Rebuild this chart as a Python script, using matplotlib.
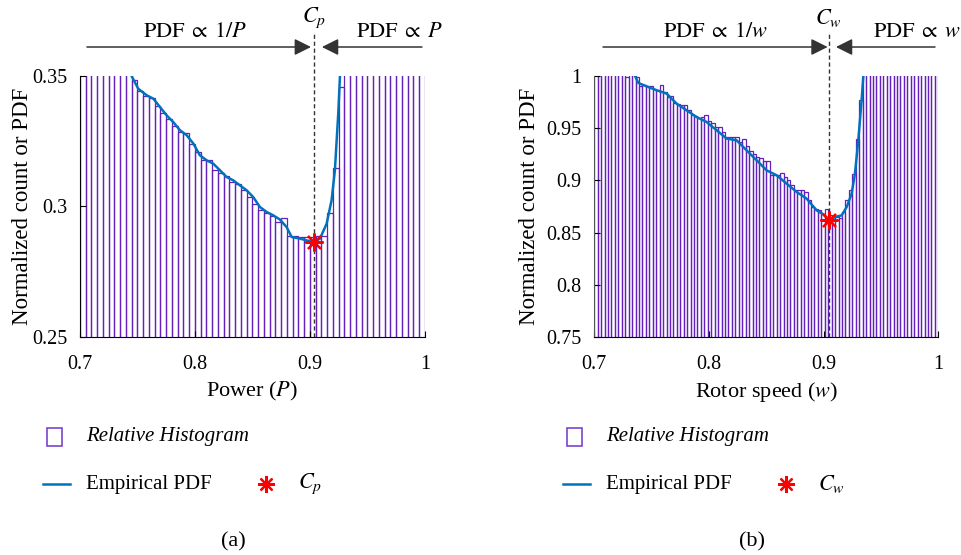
import numpy as np
import matplotlib.pyplot as plt
from matplotlib.patches import Rectangle
from matplotlib.lines import Line2D
from matplotlib.ticker import FormatStrFormatter

plt.rcParams['font.family'] = ['Liberation Serif', 'DejaVu Serif']
plt.rcParams['mathtext.fontset'] = 'stix'

# ---- (a) power: relative histogram (60 bins on 0.7..1), bars above 0.35 are off-scale
p_range = (0.7, 1.0)
p_hist = [0.43, 0.42, 0.41, 0.40, 0.39, 0.38, 0.372, 0.364, 0.356,
          0.3486, 0.3443, 0.3425, 0.3417, 0.3385, 0.3360, 0.3337, 0.3310, 0.3285, 0.3282,
          0.3241, 0.3210, 0.3179, 0.3179, 0.3141, 0.3128, 0.3116, 0.3094, 0.3087, 0.3065,
          0.3038, 0.3008, 0.2985, 0.2975, 0.2965, 0.2940, 0.2957, 0.2886, 0.2886, 0.2883,
          0.2883, 0.2885, 0.2886, 0.2886, 0.2975, 0.3147, 0.3458,
          0.362, 0.38, 0.40, 0.42, 0.44, 0.46, 0.48, 0.50, 0.52, 0.54, 0.56, 0.58, 0.60, 0.62]
p_pdf_x = [0.7435, 0.7449, 0.7507, 0.7580, 0.7638, 0.7696, 0.7754, 0.7812, 0.7870, 0.7928,
           0.7986, 0.8043, 0.8101, 0.8159, 0.8217, 0.8275, 0.8333, 0.8391, 0.8449, 0.8507,
           0.8565, 0.8623, 0.8681, 0.8739, 0.8797, 0.8841, 0.8913, 0.8971, 0.9038, 0.9087,
           0.9145, 0.9188, 0.9217, 0.9246, 0.9261, 0.9268]
p_pdf_y = [0.3518, 0.3500, 0.3451, 0.3426, 0.3413, 0.3381, 0.3349, 0.3323, 0.3292, 0.3273,
           0.3241, 0.3196, 0.3177, 0.3164, 0.3139, 0.3113, 0.3100, 0.3081, 0.3062, 0.3036,
           0.2998, 0.2979, 0.2966, 0.2950, 0.2921, 0.2883, 0.2877, 0.2870, 0.2864, 0.2877,
           0.2934, 0.3024, 0.3139, 0.3356, 0.3500, 0.3600]
p_cp = (0.9038, 0.2864)

# ---- (b) rotor speed: relative histogram (100 bins on 0.7..1), bars above 1 are off-scale
w_range = (0.7, 1.0)
w_hist = [1.06, 1.055, 1.05, 1.045, 1.04, 1.035, 1.03, 1.02, 1.01, 0.9993,
          1.005, 1.002, 0.9995, 0.990, 0.991, 0.990, 0.990, 0.988, 0.987, 0.991,
          0.985, 0.980, 0.981, 0.974, 0.973, 0.972, 0.972, 0.967, 0.963, 0.962,
          0.960, 0.961, 0.9624, 0.957, 0.9547, 0.9515, 0.951, 0.946, 0.9413, 0.9413,
          0.9413, 0.9413, 0.937, 0.940, 0.9333, 0.928, 0.925, 0.9228, 0.921, 0.9185,
          0.9185, 0.9049, 0.9049, 0.9049, 0.9071, 0.9033, 0.9001, 0.896, 0.8912, 0.8912,
          0.8905, 0.8889, 0.8816, 0.8745, 0.873, 0.8714, 0.8682, 0.873, 0.8666, 0.865,
          0.865, 0.8637, 0.870, 0.881, 0.8905, 0.9065, 0.940, 0.9767, 1.03, 1.06,
          1.09, 1.12, 1.15, 1.18, 1.21, 1.24, 1.27, 1.30, 1.33, 1.36,
          1.39, 1.42, 1.45, 1.48, 1.51, 1.54, 1.57, 1.60, 1.63, 1.66]
w_pdf_x = [0.7340, 0.7355, 0.7384, 0.7456, 0.7544, 0.7631, 0.7718, 0.7805, 0.7892, 0.7980,
           0.8067, 0.8154, 0.8241, 0.8328, 0.8416, 0.8503, 0.8590, 0.8677, 0.8765, 0.8852,
           0.8939, 0.8997, 0.9049, 0.9099, 0.9157, 0.9201, 0.9244, 0.9273, 0.9302, 0.9331,
           0.9346, 0.9352]
w_pdf_y = [1.003, 1.000, 0.9933, 0.9901, 0.9863, 0.9831, 0.9735, 0.9671, 0.9607, 0.9559,
           0.9480, 0.9400, 0.9384, 0.9288, 0.9192, 0.9096, 0.9049, 0.8969, 0.8889, 0.8825,
           0.8713, 0.8675, 0.8620, 0.8649, 0.8665, 0.8745, 0.8873, 0.9064, 0.9384, 0.9767,
           1.000, 1.020]
w_cw = (0.9045, 0.862)

hist_color = '#6320bb'
pdf_color = '#0072BD'

fig = plt.figure(figsize=(9.61, 5.55), dpi=100)
ax1 = fig.add_axes([0.0832, 0.3928, 0.359, 0.4703])
ax2 = fig.add_axes([0.6184, 0.3928, 0.358, 0.4703])


def draw_panel(ax, hist, rng, px, py, cpt, ylim, yticks, xlabel, var, sym, arrows, ylab_x):
    edges = np.linspace(rng[0], rng[1], len(hist) + 1)
    ax.bar(edges[:-1], hist, width=np.diff(edges), align='edge', fill=False,
           edgecolor=hist_color, linewidth=0.9)
    ax.plot(px, py, color=pdf_color, lw=1.8)
    ax.plot([cpt[0]], [cpt[1]], linestyle='none', marker=(8, 2, 0), ms=13,
            mew=1.6, color='red', zorder=5)
    ax.set_xlim(rng)
    ax.set_ylim(ylim)
    ax.set_xticks([0.7, 0.8, 0.9, 1.0])
    ax.set_yticks(yticks)
    ax.xaxis.set_major_formatter(FormatStrFormatter('%g'))
    ax.yaxis.set_major_formatter(FormatStrFormatter('%g'))
    for s in ['top', 'right']:
        ax.spines[s].set_visible(False)
    ax.tick_params(direction='in', length=4, width=0.8, labelsize=14.5)
    ax.tick_params(axis='y', pad=9)
    ax.tick_params(axis='x', pad=13)
    ax.set_xlabel(xlabel, fontsize=16, labelpad=4)
    ax.set_ylabel('Normalized count or PDF', fontsize=16.5)
    ax.yaxis.set_label_coords(ylab_x, 0.5)

    tr = ax.get_xaxis_transform()
    ax.plot([cpt[0], cpt[0]], [0, 1.165], transform=tr, clip_on=False,
            color='#333333', lw=1, linestyle=(0, (3, 2)))
    ax.text(cpt[0], 1.222, sym, transform=tr, ha='center', va='center', fontsize=16)
    ax.text(arrows[4], 1.165, r'$\mathrm{PDF}\;\propto\;1/%s$' % var, transform=tr,
            ha='center', va='center', fontsize=16)
    ax.text(arrows[5], 1.165, r'$\mathrm{PDF}\;\propto\;%s$' % var, transform=tr,
            ha='center', va='center', fontsize=16)
    aprops = dict(arrowstyle='-|>,head_length=0.5,head_width=0.25', color='#333333',
                  lw=1.1, mutation_scale=20, shrinkA=0, shrinkB=0)
    ax.annotate('', xy=(arrows[1], 1.111), xytext=(arrows[0], 1.111),
                xycoords=tr, textcoords=tr, arrowprops=aprops)
    ax.annotate('', xy=(arrows[3], 1.111), xytext=(arrows[2], 1.111),
                xycoords=tr, textcoords=tr, arrowprops=aprops)


draw_panel(ax1, p_hist, p_range, p_pdf_x, p_pdf_y, p_cp, (0.25, 0.35), [0.25, 0.3, 0.35],
           'Power ($P$)', 'P', '$C_p$', (0.7061, 0.9009, 0.9974, 0.9104, 0.80, 0.978),
           -0.135)
draw_panel(ax2, w_hist, w_range, w_pdf_x, w_pdf_y, w_cw, (0.75, 1.0),
           [0.75, 0.8, 0.85, 0.9, 0.95, 1.0],
           'Rotor speed ($w$)', 'w', '$C_w$', (0.7076, 0.9035, 0.9971, 0.9107, 0.806, 0.9813),
           -0.158)
ax2.spines['left'].set_color('#555555')


# legends (drawn by hand, pixel layout of the original)
def px(x, y):
    return x / 961, 1 - y / 555


def legend_block(x0, sym):
    fig.add_artist(Rectangle(px(x0, 446), 15 / 961, 18 / 555, fill=False,
                             edgecolor='#7a45cf', lw=1.2, transform=fig.transFigure))
    fig.text(*px(x0 + 39, 437), 'Relative Histogram', style='italic', fontsize=15, va='center')
    xa, ya = px(x0 - 4, 484)
    xb, _ = px(x0 + 23, 484)
    fig.add_artist(Line2D([xa, xb], [ya, ya], color=pdf_color, lw=1.8,
                          transform=fig.transFigure))
    fig.text(*px(x0 + 39, 484), 'Empirical PDF', fontsize=15, va='center')
    sx, sy = px(x0 + 219, 484)
    fig.add_artist(Line2D([sx], [sy], marker=(8, 2, 0), ms=12, mew=1.6, color='red',
                          linestyle='none', transform=fig.transFigure))
    fig.text(*px(x0 + 251, 484), sym, fontsize=16, va='center')


legend_block(47, '$C_p$')
legend_block(567, '$C_w$')

fig.text(*px(233, 542), '(a)', fontsize=16, ha='center', va='center')
fig.text(*px(752, 542), '(b)', fontsize=16, ha='center', va='center')

fig.savefig('out.png', dpi=100)
